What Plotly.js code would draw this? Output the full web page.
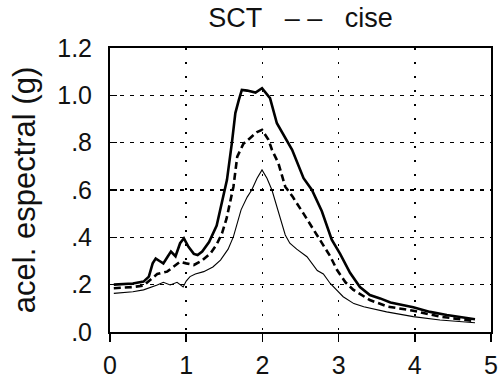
<!DOCTYPE html>
<html>
<head>
<meta charset="utf-8">
<script src="https://cdn.plot.ly/plotly-3.0.1.min.js"></script>
<style>html,body{margin:0;padding:0;background:#fff}#chart{width:503px;height:378px}</style>
</head>
<body>
<div id="chart"></div>
<script>
// Upper curve (thick solid)
const upperT = [0.05,0.30,0.44,0.51,0.56,0.60,0.65,0.70,0.76,0.80,0.86,0.92,0.97,1.03,1.10,1.15,1.21,1.30,1.40,1.49,1.535,1.60,1.645,1.69,1.73,1.80,1.91,1.995,2.05,2.10,2.19,2.30,2.39,2.54,2.65,2.78,2.91,3.02,3.15,3.28,3.41,3.545,3.68,3.98,4.20,4.42,4.60,4.79];
const upperA = [0.200,0.205,0.213,0.234,0.290,0.310,0.300,0.290,0.320,0.340,0.320,0.375,0.396,0.360,0.330,0.325,0.340,0.380,0.450,0.570,0.643,0.800,0.925,0.980,1.023,1.020,1.012,1.030,1.010,0.988,0.882,0.820,0.770,0.650,0.600,0.510,0.390,0.330,0.250,0.190,0.156,0.142,0.125,0.105,0.085,0.072,0.063,0.054];
// Middle curve (thick dashed)
const midT = [0.05,0.30,0.44,0.55,0.62,0.68,0.75,0.85,0.92,1.00,1.10,1.20,1.32,1.40,1.47,1.53,1.58,1.62,1.67,1.75,1.84,1.93,1.995,2.08,2.125,2.21,2.30,2.40,2.54,2.715,2.89,2.98,3.09,3.195,3.41,3.65,3.98,4.33,4.79];
const midA = [0.185,0.190,0.196,0.225,0.245,0.250,0.255,0.280,0.297,0.290,0.283,0.300,0.333,0.370,0.417,0.480,0.558,0.614,0.741,0.795,0.820,0.845,0.854,0.812,0.770,0.713,0.614,0.570,0.500,0.410,0.320,0.262,0.210,0.178,0.135,0.107,0.090,0.065,0.046];
// Lower curve (thin solid)
const lowT = [0.05,0.30,0.44,0.55,0.62,0.70,0.79,0.88,0.96,1.00,1.05,1.12,1.23,1.35,1.45,1.55,1.62,1.72,1.80,1.86,1.93,1.995,2.06,2.125,2.235,2.30,2.36,2.45,2.585,2.72,2.80,2.89,3.06,3.20,3.33,3.63,3.98,4.33,4.79];
const lowA = [0.163,0.170,0.178,0.190,0.199,0.210,0.199,0.210,0.190,0.215,0.234,0.245,0.255,0.275,0.304,0.350,0.403,0.516,0.570,0.600,0.650,0.685,0.650,0.600,0.474,0.410,0.375,0.350,0.318,0.260,0.245,0.205,0.149,0.120,0.107,0.085,0.065,0.051,0.039];

const xTicks = [0,1,2,3,4,5];
const xTickText = ['0','1','2','3','4','5'];
const yTicks = [0,0.2,0.4,0.6,0.8,1.0,1.2];
const yTickText = ['.0','.2','.4','.6','.8','1.0','1.2'];

const FONT = 'Liberation Sans, Arial, sans-serif';

const traces = [
  {x: upperT, y: upperA, mode:'lines', line:{color:'#000', width:2.6}, hoverinfo:'skip'},
  {x: midT, y: midA, mode:'lines', line:{color:'#000', width:2.6, dash:'7px,4px'}, hoverinfo:'skip'},
  {x: lowT, y: lowA, mode:'lines', line:{color:'#000', width:1.1}, hoverinfo:'skip'}
];

const layout = {
  width:503, height:378,
  margin:{l:110, r:12, t:48, b:46, pad:0},
  paper_bgcolor:'#fff', plot_bgcolor:'#fff',
  showlegend:false,
  font:{family:FONT, color:'#111', size:24},
  title:{text:'SCT\u00A0\u00A0\u00A0\u2013\u00A0\u2013\u00A0\u00A0\u00A0cise', xref:'paper', x:0.5, xanchor:'center', yref:'container', y:0.953, yanchor:'middle', font:{family:FONT, size:27, color:'#111'}},
  xaxis:{range:[0,5], tickvals:xTicks, ticktext:xTickText, showline:true, linecolor:'#000', linewidth:2, mirror:true,
    ticks:'outside', ticklen:8, tickwidth:1.5, tickcolor:'#000', ticklabelstandoff:2,
    showgrid:true, gridcolor:'#000', gridwidth:1.5, griddash:'2px,12px', zeroline:false,
    tickfont:{family:FONT, size:25, color:'#111'}, fixedrange:true},
  yaxis:{range:[0,1.2], tickvals:yTicks, ticktext:yTickText, showline:true, linecolor:'#000', linewidth:2, mirror:true,
    ticks:'inside', ticklen:7, tickwidth:1.5, tickcolor:'#000', ticklabelstandoff:11,
    showgrid:true, gridcolor:'#000', gridwidth:1.5, griddash:'4px,6px', zeroline:false,
    tickfont:{family:FONT, size:25, color:'#111'},
    title:{text:'acel. espectral (g)', standoff:12, font:{family:FONT, size:31, color:'#111'}}, fixedrange:true}
};

Plotly.newPlot('chart', traces, layout, {staticPlot:true, displayModeBar:false});
</script>
</body>
</html>
